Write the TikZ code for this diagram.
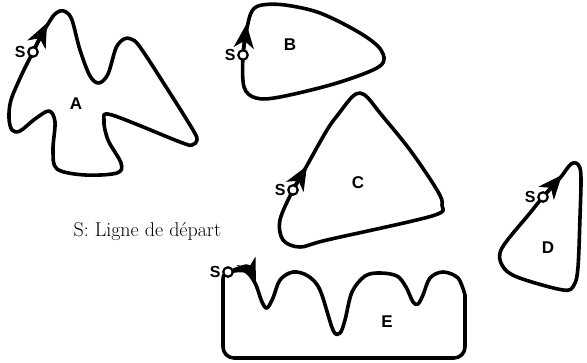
\documentclass[tikz,border=0pt]{standalone}
\usepackage{fontspec}
\newfontfamily\labelfont{Liberation Sans}
\usetikzlibrary{arrows.meta}

\begin{document}
\begin{tikzpicture}[
    x=1pt, y=-1pt,
    outline/.style={line width=3.6pt, line join=round},
    start/.style={circle, draw, fill=white, line width=2.2pt, inner sep=0pt, minimum size=9.5pt},
    slabel/.style={font=\labelfont\bfseries\fontsize{16}{18}\selectfont, anchor=east, inner sep=1.5pt},
    letter/.style={font=\labelfont\bfseries\fontsize{17}{19}\selectfont},
    tip/.style={-{Stealth[length=24pt 0 0, width=20pt 0 0, inset=7pt]}, line width=3.6pt}
]
    \useasboundingbox (0,0) rectangle (587,363);

    % A
    \draw[outline] plot[smooth cycle, tension=0.55] coordinates {
        (33,52) (41,36) (48,24) (54,15) (60,11) (66,12) (72,20) (80,50) (90,76) (99,83)
        (108,74) (116,48) (124,39) (131,39) (140,47) (168,90) (193,130) (197,140)
        (192,145) (180,142) (112,115) (104,120) (108,140) (121,163) (117,173)
        (85,175) (57,169) (53,150) (55,122) (49,111) (35,119) (20,131) (12,130)
        (9,118) (11,100) (22,74)};
    % B
    \draw[outline] plot[smooth cycle, tension=0.55] coordinates {
        (243,55) (247,28) (252,11) (262,5) (285,5) (320,13) (360,33) (381,50)
        (380,66) (337,83) (280,97) (256,98) (244,87)};
    % C
    \draw[outline] plot[smooth cycle, tension=0.55] coordinates {
        (293,190) (305,169) (327,130) (340,112) (352,97) (360,93) (368,98)
        (380,113) (410,150) (437,190) (442,205) (432,216) (327,240) (300,247)
        (283,240) (280,220)};
    % D
    \draw[outline] plot[smooth cycle, tension=0.55] coordinates {
        (543,197) (560,178) (566,170) (571,164) (576,163) (580,168) (581,182)
        (580,217) (578,267) (574,285) (563,290) (517,277) (502,265) (502,248)
        (530,213)};
    % E
    \draw[outline] plot[smooth, tension=0.55] coordinates {
        (228,272) (245,271) (255,283) (262,302) (267,308) (273,298) (280,280)
        (293,272) (308,276) (320,290) (333,330) (340,333) (345,320) (352,292)
        (365,276) (380,273) (397,276) (406,287) (413,302) (418,304) (423,295)
        (430,278) (443,272) (458,278) (465,295)}
        [rounded corners=11pt] -- (465,358) -- (223,358) [sharp corners] -- (223,282)
        .. controls (223,275) .. (228,272);

    \node[start] (sA) at (33,52) {};
    \node[start] (sB) at (243,55) {};
    \node[start] (sC) at (293,190) {};
    \node[start] (sD) at (543,197) {};
    \node[start] (sE) at (228,272) {};

    \coordinate (arA) at (47,23);
    \coordinate (arB) at (246.5,24);
    \coordinate (arC) at (307,166);
    \coordinate (arD) at (562,175);
    \coordinate (arE) at (256,283);

    \draw[tip] (sA) -- (arA);
    \draw[tip] (sB) -- (arB);
    \draw[tip] (sC) -- (arC);
    \draw[tip] (sD) -- (arD);
    \draw[tip] (sE) .. controls (248,265) .. (arE);

    \node[slabel] (lA) at (sA.west) {S};
    \node[slabel] (lB) at (sB.west) {S};
    \node[slabel] (lC) at (sC.west) {S};
    \node[slabel] (lD) at (sD.west) {S};
    \node[slabel] (lE) at (sE.west) {S};

    \node[letter] (nA) at (76,104) {A};
    \node[letter] (nB) at (290,45) {B};
    \node[letter] (nC) at (358,183) {C};
    \node[letter] (nD) at (548,248) {D};
    \node[letter] (nE) at (387,322) {E};

    \node[font=\fontsize{20}{24}\selectfont, anchor=west] (legend) at (70,232) {S: Ligne de départ};
\end{tikzpicture}
\end{document}
